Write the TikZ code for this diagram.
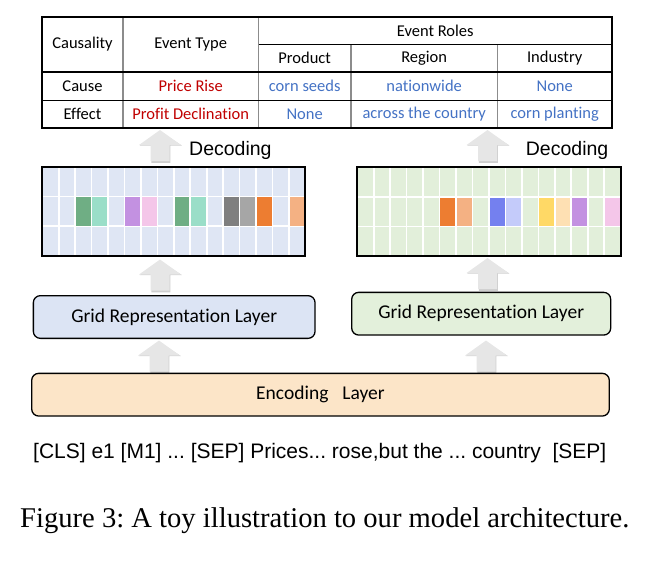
\documentclass[tikz,border=0pt]{standalone}
\usepackage{fontspec}
\setmainfont{Liberation Serif}
\newfontfamily\calfont[Ligatures=NoCommon]{Carlito}
\newfontfamily\arialfont{Liberation Sans}
\usetikzlibrary{positioning,calc}
\frenchspacing

\definecolor{causered}{HTML}{C00000}
\definecolor{roleblue}{HTML}{4472C4}
\definecolor{linegray}{HTML}{8C8C8C}
\definecolor{gridblue}{HTML}{DFE6F4}
\definecolor{gridgreen}{HTML}{E2EFDA}
\definecolor{repblue}{HTML}{DCE4F4}
\definecolor{repgreen}{HTML}{E3F0DB}
\definecolor{encpeach}{HTML}{FCE5C8}
\definecolor{arrgray}{HTML}{E6E6E6}
\definecolor{cgreen}{HTML}{6FAE84}
\definecolor{cteal}{HTML}{9ADEC8}
\definecolor{cpurple}{HTML}{C391E1}
\definecolor{cpink}{HTML}{F4C6E9}
\definecolor{cdkgray}{HTML}{7F7F7F}
\definecolor{cgray}{HTML}{A6A6A6}
\definecolor{corange}{HTML}{ED7D31}
\definecolor{cltorange}{HTML}{F4B183}
\definecolor{cblue}{HTML}{7480EF}
\definecolor{cltblue}{HTML}{C4CBFA}
\definecolor{cyellow}{HTML}{FFD966}
\definecolor{cpeach}{HTML}{FEE0B3}

\tikzset{
  uparr/.pic={
    \fill[black!35,opacity=.55] (-8.7,17.3) -- (-8.7,0) -- (-20.2,0) -- (0.8,-13.5)
      -- (21.8,0) -- (10.3,0) -- (10.3,17.3) -- cycle;
    \fill[arrgray] (-9.5,15.5) -- (-9.5,-0.5) -- (-21,-0.5) -- (0,-15.5)
      -- (21,-0.5) -- (9.5,-0.5) -- (9.5,15.5) -- cycle;
  }
}

\begin{document}
\begin{tikzpicture}[
 x=1pt,y=-1pt,
 cell/.style={font=\calfont\fontsize{16.5}{18}\selectfont,inner sep=0pt},
 thick line/.style={line width=2pt},
 inner line/.style={linegray,line width=1.1pt},
 layer/.style={draw=black,line width=1.3pt,rounded corners=7pt,
   font=\calfont\fontsize{19.5}{22}\selectfont,minimum height=42.7pt},
 decode/.style={font=\arialfont\fontsize{19.5}{22}\selectfont,anchor=west,inner sep=0pt},
 gridline/.style={white,line width=1.6pt}
]
\useasboundingbox (0,0) rectangle (672,568);

% result table
\draw[inner line] (123,17) -- (123,128);
\draw[inner line] (258.5,17) -- (258.5,128);
\draw[inner line] (351,44) -- (351,128);
\draw[inner line] (497.5,44) -- (497.5,128);
\draw[line width=1pt] (258.5,44) -- (612,44);
\draw[line width=1pt] (42,100) -- (612,100);
\draw[thick line] (42,71.7) -- (612,71.7);
\draw[thick line] (42,17) rectangle (612,128);

\node[cell] (causality) at (82.5,44.3) {Causality};
\node[cell] (etype) at (190.7,44.3) {Event Type};
\node[cell] (roles) at (435.2,30.5) {Event Roles};
\node[cell] (product) at (304.7,57.9) {Product};
\node[cell] (region) at (424.2,57.9) {Region};
\node[cell] (industry) at (554.7,57.9) {Industry};
\node[cell] (cause) at (82.5,85.8) {Cause};
\node[cell,causered] (rise) at (190.7,85.8) {Price Rise};
\node[cell,roleblue] (seeds) at (304.7,85.8) {corn seeds};
\node[cell,roleblue] (nation) at (424.2,85.8) {nationwide};
\node[cell,roleblue] (noneA) at (554.7,85.8) {None};
\node[cell] (effect) at (82.5,114) {Effect};
\node[cell,causered] (decl) at (190.7,114) {Profit Declination};
\node[cell,roleblue] (noneB) at (304.7,114) {None};
\node[cell,roleblue] (across) at (424.2,114) {across the country};
\node[cell,roleblue] (planting) at (554.7,114) {corn planting};

% decoding arrows
\pic at (160,145.5) {uparr};
\pic at (487.5,145.5) {uparr};
\node[decode] (decL) at (189,150) {Decoding};
\node[decode] (decR) at (525.7,150) {Decoding};

% left grid
\fill[gridblue] (42.3,166.7) rectangle (305.3,256);
\foreach \i in {1,...,15}
  \draw[gridline] ({42.3+\i*16.44},166.7) -- ++(0,89.3);
\foreach \j in {1,2}
  \draw[gridline] (42.3,{166.7+\j*29.77}) -- ++(263,0);
\foreach \c/\col in {2/cgreen,3/cteal,5/cpurple,6/cpink,8/cgreen,9/cteal,
    11/cdkgray,12/cgray,13/corange,15/cltorange}
  \fill[\col] ({42.3+\c*16.44+0.8},197.3) rectangle ++(14.84,28.2);
\draw[thick line] (42.3,166.7) rectangle (305.3,256);

% right grid
\fill[gridgreen] (357.3,167.3) rectangle (620.7,256);
\foreach \i in {1,...,15}
  \draw[gridline] ({357.3+\i*16.46},167.3) -- ++(0,88.7);
\foreach \j in {1,2}
  \draw[gridline] (357.3,{167.3+\j*29.57}) -- ++(263.4,0);
\foreach \c/\col in {5/corange,6/cltorange,8/cblue,9/cltblue,11/cyellow,
    12/cpeach,13/cpurple,15/cpink}
  \fill[\col] ({357.3+\c*16.46+0.8},197.7) rectangle ++(14.86,28);
\draw[thick line] (357.3,167.3) rectangle (620.7,256);

% grid representation layers
\pic at (160,275) {uparr};
\pic at (487.5,273.5) {uparr};
\node[layer,fill=repblue,minimum width=281.7pt] (repL) at (174.2,317) {Grid Representation Layer};
\node[layer,fill=repgreen,minimum width=259pt] (repR) at (481.2,313.7) {Grid Representation Layer};

% encoder
\pic at (159,356) {uparr};
\pic at (486,356) {uparr};
\node[layer,fill=encpeach,minimum width=577.6pt] (enc) at (320.5,394.7) {Encoding\hspace{14pt}Layer};

\node[decode,font=\arialfont\fontsize{21}{24}\selectfont] (tokens) at (33,453)
  {[CLS] e1 [M1] ... [SEP] Prices... rose,but the ... country\ \ [SEP]};

\node[anchor=base west,inner sep=0pt,font=\fontsize{28.6}{31}\selectfont] (caption) at (20,527)
  {Figure 3: A toy illustration to our model architecture.};
\end{tikzpicture}
\end{document}
